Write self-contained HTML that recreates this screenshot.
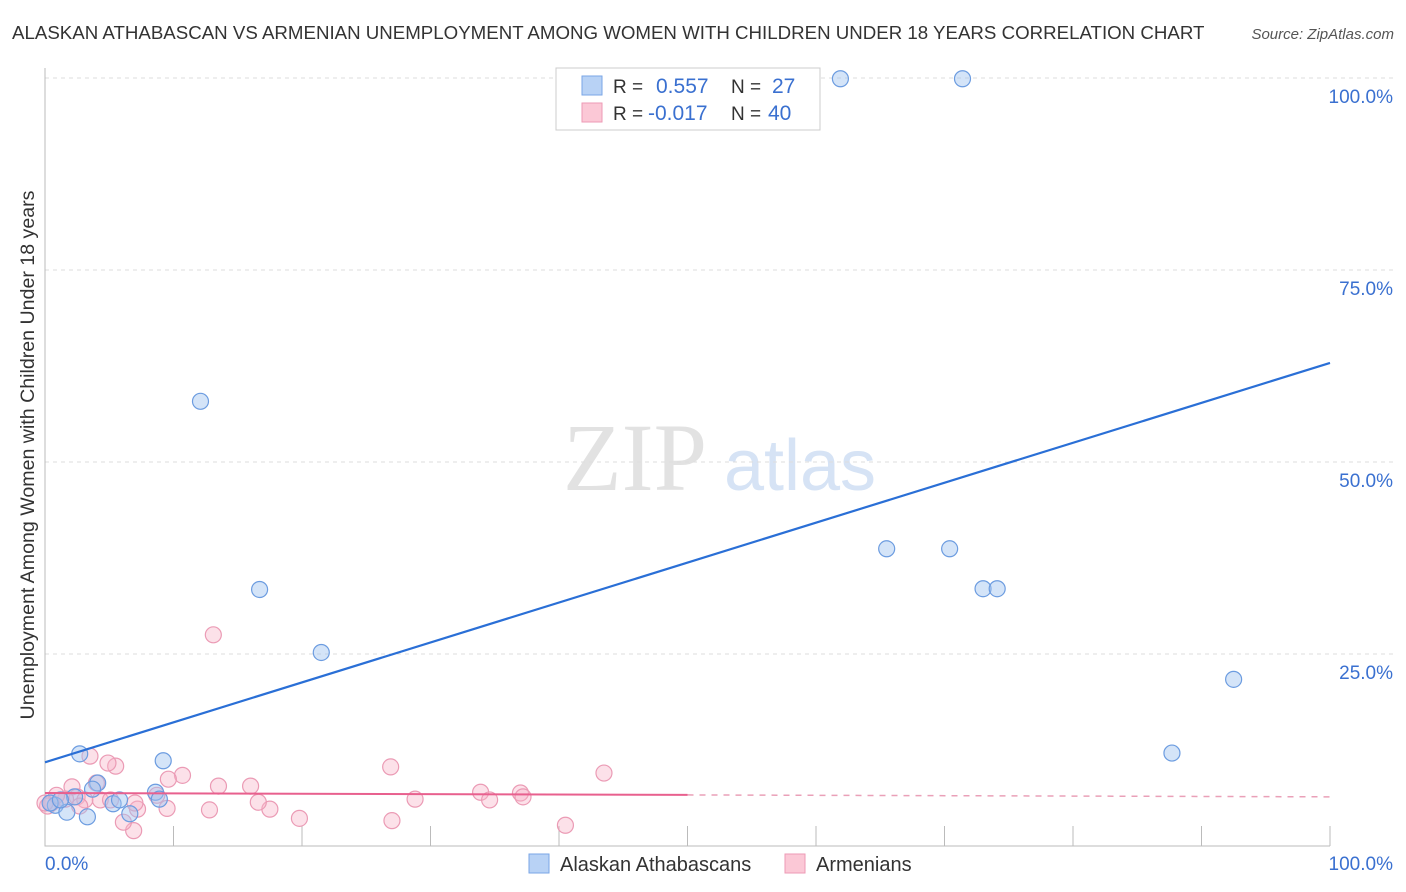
<!DOCTYPE html>
<html><head><meta charset="utf-8"><style>
body{margin:0;background:#fff;font-family:"Liberation Sans",sans-serif;}
svg{display:block}
</style></head><body>
<svg id="chart" width="1406" height="892">
<text x="12" y="39" font-size="18.7" fill="#333">ALASKAN ATHABASCAN VS ARMENIAN UNEMPLOYMENT AMONG WOMEN WITH CHILDREN UNDER 18 YEARS CORRELATION CHART</text>
<text x="1394" y="39" font-size="15" fill="#555" font-style="italic" text-anchor="end">Source: ZipAtlas.com</text>
<text transform="translate(34,455) rotate(-90)" font-size="19.6" fill="#333" text-anchor="middle">Unemployment Among Women with Children Under 18 years</text>
<g><text x="635" y="490" font-size="96" fill="#e2e2e2" font-family="Liberation Serif,serif" text-anchor="middle">ZIP</text><text x="800" y="490" font-size="72" fill="#d6e3f5" text-anchor="middle">atlas</text></g>
<g id="grid"></g><g id="axes"></g><g id="marks"></g>
<g>
<rect x="556" y="68" width="264" height="62" fill="#fff" stroke="#ccc"/>
<rect x="582" y="76" width="20" height="19" fill="#b8d2f5" stroke="#7aa6e6"/>
<rect x="582" y="103" width="20" height="19" fill="#fbc8d6" stroke="#ee9ab5"/>
<text x="613" y="93" font-size="19" fill="#333">R =</text><text x="656" y="93" font-size="21" fill="#3a70d0">0.557</text>
<text x="731" y="93" font-size="19" fill="#333">N =</text><text x="772" y="93" font-size="21" fill="#3a70d0">27</text>
<text x="613" y="120" font-size="19" fill="#333">R =</text><text x="648" y="120" font-size="21" fill="#3a70d0">-0.017</text>
<text x="731" y="120" font-size="19" fill="#333">N =</text><text x="768" y="120" font-size="21" fill="#3a70d0">40</text>
</g>
<g>
<rect x="529" y="854" width="20" height="19" fill="#b8d2f5" stroke="#7aa6e6"/>
<text x="560" y="871" font-size="20" fill="#333">Alaskan Athabascans</text>
<rect x="785" y="854" width="20" height="19" fill="#fbc8d6" stroke="#ee9ab5"/>
<text x="816" y="871" font-size="20" fill="#333">Armenians</text>
</g>
</svg>
<script>
const blueX=[12.1,16.7,21.5,65.5,70.4,73.0,74.1,92.5,87.7,61.9,71.4,50.0,2.7,9.2,4.1,3.7,0.8,1.7,3.3,5.3,5.8,6.6,8.6,8.9,2.3,0.4,1.2];
const blueY=[57.9,33.4,25.2,38.7,38.7,33.5,33.5,21.7,12.1,99.9,99.9,99.9,12.0,11.1,8.2,7.4,5.3,4.4,3.8,5.5,6.0,4.2,7.0,6.1,6.4,5.6,6.0];
const pinkX=[13.1,26.9,43.5,33.9,37.0,37.2,34.6,28.8,27.0,40.5,19.8,17.5,16.6,16.0,13.5,12.8,10.7,9.6,8.7,9.5,7.2,7.0,6.9,6.1,5.5,4.9,4.0,3.5,2.1,2.5,1.6,1.2,0.5,0.2,4.3,5.1,3.1,2.7,0.9,0.0];
const pinkY=[27.5,10.3,9.5,7.0,6.9,6.4,6.0,6.1,3.3,2.7,3.6,4.8,5.7,7.8,7.8,4.7,9.2,8.7,6.6,4.9,4.8,5.6,2.0,3.1,10.4,10.8,8.2,11.7,7.7,6.4,6.1,6.0,5.6,5.2,6.0,6.0,6.0,5.2,6.6,5.6];
const blueTrend=[10.9,62.9];
const pinkTrend=[6.9,6.4];
const yTicks=[25,50,75,100];
const yTickLabels=["25.0%","50.0%","75.0%","100.0%"];
const xTicks=[10,20,30,40,50,60,70,80,90,100];
const xs=v=>45+v*12.85, ys=v=>846-v*7.68;
const NS="http://www.w3.org/2000/svg";
function mk(tag,attrs,parent){const e=document.createElementNS(NS,tag);for(const k in attrs)e.setAttribute(k,attrs[k]);document.getElementById(parent).appendChild(e);return e;}
yTicks.forEach((t,i)=>{
 const l=mk('line',{x1:45,x2:1394,y1:ys(t),y2:ys(t),stroke:'#ddd','stroke-dasharray':'4,4'},'grid');
 
 
 const tx=mk('text',{x:1393,y:ys(t)+25,'font-size':19,fill:'#3a70d0','text-anchor':'end'},'axes');
 tx.textContent=yTickLabels[i];
 
 
});
const ax=mk('path',{d:'M45,68 V846 H1330',stroke:'#bbb',fill:'none'},'axes');


xTicks.forEach(t=>{
 const l=mk('line',{x1:xs(t),x2:xs(t),y1:826,y2:846,stroke:'#bbb'},'axes');
 
 
});
const x0=mk('text',{x:45,y:870,'font-size':19,fill:'#3a70d0'},'axes');x0.textContent='0.0%';


const x1=mk('text',{x:1393,y:870,'font-size':19,fill:'#3a70d0','text-anchor':'end'},'axes');x1.textContent='100.0%';


pinkX.forEach((v,i)=>{
 const c=mk('circle',{cx:xs(v),cy:ys(pinkY[i]),r:8,fill:'rgba(248,180,200,0.4)',stroke:'#eb9bb5','stroke-width':1.2},'marks');
 
 
});
blueX.forEach((v,i)=>{
 const c=mk('circle',{cx:xs(v),cy:ys(blueY[i]),r:8,fill:'rgba(160,195,240,0.45)',stroke:'#6c9ce0','stroke-width':1.2},'marks');
 
 
});
const pm=pinkTrend[0]+(pinkTrend[1]-pinkTrend[0])*0.5;
const ps=mk('line',{x1:xs(0),y1:ys(pinkTrend[0]),x2:xs(50),y2:ys(pm),stroke:'#e8608e','stroke-width':2},'marks');


const pd=mk('line',{x1:xs(50),y1:ys(pm),x2:xs(100),y2:ys(pinkTrend[1]),stroke:'#eaa0b8','stroke-width':1.5,'stroke-dasharray':'6,6'},'marks');


const bt=mk('line',{x1:xs(0),y1:ys(blueTrend[0]),x2:xs(100),y2:ys(blueTrend[1]),stroke:'#2a6fd6','stroke-width':2.2},'marks');


</script>
</body></html>
